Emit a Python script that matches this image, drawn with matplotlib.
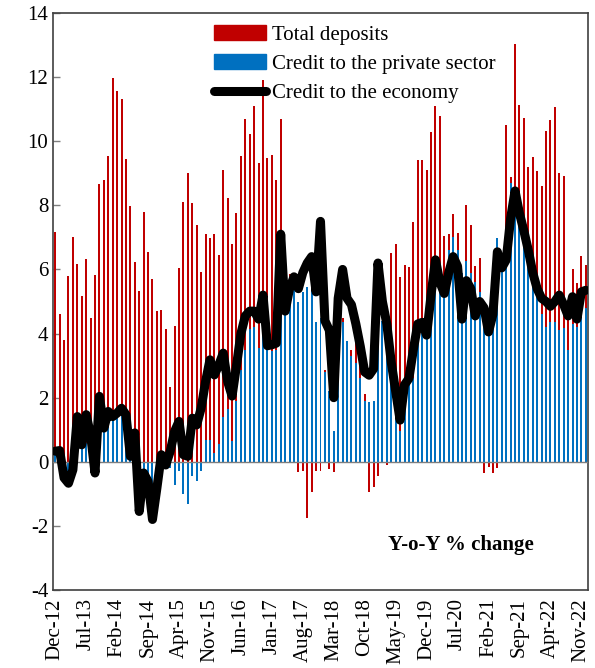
import numpy as np
import matplotlib
matplotlib.use("Agg")
import matplotlib.pyplot as plt
from matplotlib.patches import Patch
from matplotlib.lines import Line2D

plt.rcParams['font.family'] = ['Liberation Serif', 'DejaVu Serif']
plt.rcParams['axes.unicode_minus'] = False

# === Data (monthly, Dec-12 .. Dec-22) ===
total_deposits = [
    7.17, 4.62, 3.79, 5.79, 7.01, 6.18, 5.16, 6.32, 4.49, 5.83,
    8.68, 8.79, 9.54, 11.96, 11.57, 11.32, 9.43, 7.97, 6.22, 5.33,
    7.80, 6.53, 5.69, 4.71, 4.73, 4.15, 2.33, 4.24, 6.05, 8.11,
    9.01, 8.07, 7.40, 5.93, 7.11, 6.98, 7.12, 6.44, 9.11, 8.23,
    6.80, 7.77, 9.54, 10.68, 10.23, 11.09, 9.33, 11.90, 9.49, 9.58,
    8.79, 10.68, 4.00, 5.85, 4.50, -0.33, -0.28, -1.74, -0.95, -0.28,
    -0.28, 2.85, -0.22, -0.33, 3.50, 4.50, -0.05, 3.50, 4.00, 3.07,
    2.10, -0.95, -0.78, -0.45, 3.00, -0.10, 6.50, 6.80, 5.77, 6.14,
    6.08, 7.47, 9.41, 9.41, 9.10, 10.30, 11.10, 10.80, 7.05, 7.12,
    7.72, 7.14, 5.50, 8.00, 7.40, 6.10, 6.35, -0.35, -0.15, -0.35,
    -0.20, 4.00, 10.51, 8.87, 13.04, 11.13, 10.71, 9.20, 9.51, 9.08,
    8.59, 10.33, 10.66, 11.08, 9.02, 8.90, 4.70, 6.00, 5.58, 6.42,
    6.14,
]

credit_private = [
    0.30, 0.20, -0.20, -0.30, 0.10, 0.60, 0.40, 0.60, 0.50, 0.30,
    1.00, 1.10, 1.40, 1.50, 1.60, 1.60, 1.30, 0.60, 0.40, -0.20,
    -0.50, -0.60, -0.80, -0.30, -0.10, 0.10, -0.20, -0.73, -0.30, -1.00,
    -1.31, -0.45, -0.61, -0.28, 0.67, 0.67, 0.27, 0.57, 1.40, 1.65,
    0.65, 1.89, 2.86, 3.50, 4.15, 4.19, 3.56, 4.50, 3.50, 3.45,
    3.50, 4.55, 4.60, 5.40, 5.40, 5.00, 5.30, 5.45, 5.80, 4.35,
    4.50, 2.80, 2.20, 0.95, 4.30, 4.35, 3.78, 3.30, 3.08, 2.62,
    1.90, 1.85, 1.90, 4.70, 4.38, 3.39, 2.82, 2.20, 0.95, 2.40,
    2.50, 2.60, 4.06, 4.27, 4.58, 5.10, 5.60, 5.80, 5.80, 6.60,
    7.00, 6.60, 5.90, 6.25, 5.90, 5.60, 5.30, 4.80, 4.24, 4.35,
    6.98, 5.97, 6.36, 8.70, 8.40, 7.81, 7.48, 6.80, 6.00, 5.36,
    4.62, 4.20, 4.35, 4.36, 4.12, 4.17, 3.48, 4.30, 4.20, 4.55,
    4.80,
]

credit_economy = [
    0.33, 0.35, -0.50, -0.67, -0.25, 1.41, 0.53, 1.47, 0.84, -0.35,
    2.04, 1.05, 1.57, 1.41, 1.52, 1.67, 1.47, 0.17, 0.90, -1.55,
    -0.35, -0.61, -1.80, -0.82, 0.22, -0.10, 0.32, 0.95, 1.26, 0.22,
    0.17, 1.36, 1.15, 1.67, 2.50, 3.18, 2.71, 3.02, 3.39, 2.50,
    2.05, 3.00, 4.00, 4.55, 4.70, 4.70, 4.45, 5.20, 3.62, 3.65,
    3.70, 7.10, 4.70, 5.40, 5.77, 5.40, 5.90, 6.20, 6.40, 5.30,
    7.50, 4.40, 4.10, 2.00, 5.10, 6.00, 5.10, 4.90, 4.30, 3.60,
    2.80, 2.70, 2.90, 6.20, 5.00, 4.30, 3.10, 2.20, 1.30, 2.40,
    2.60, 3.50, 4.30, 4.35, 3.95, 5.20, 6.30, 5.60, 5.25, 5.90,
    6.40, 6.10, 4.45, 5.65, 5.40, 4.55, 5.00, 4.80, 4.05, 4.60,
    6.55, 6.05, 6.30, 7.60, 8.45, 7.75, 7.20, 6.60, 5.90, 5.40,
    5.10, 5.00, 4.85, 5.00, 5.20, 4.90, 4.55, 5.15, 4.45, 5.30,
    5.35,
]

tick_labels = ["Dec-12", "Jul-13", "Feb-14", "Sep-14", "Apr-15", "Nov-15",
               "Jun-16", "Jan-17", "Aug-17", "Mar-18", "Oct-18", "May-19",
               "Dec-19", "Jul-20", "Feb-21", "Sep-21", "Apr-22", "Nov-22"]

RED = "#C00000"
BLUE = "#0070C0"

x = np.arange(len(total_deposits))

fig = plt.figure(figsize=(5.95, 6.68), dpi=100)
ax = fig.add_axes([53 / 595, 1 - 590 / 668, 535 / 595, 577 / 668])

ax.bar(x, total_deposits, width=0.45, color=RED, zorder=2)
ax.bar(x, credit_private, width=0.45, color=BLUE, zorder=3)
ax.axhline(0, color="#7f7f7f", lw=1.0, zorder=4)
ax.plot(x, credit_economy, color="black", lw=6.5, solid_joinstyle="round",
        solid_capstyle="round", zorder=5)

ax.set_xlim(-0.5, len(x) - 0.5)
ax.set_ylim(-4, 14)
ax.set_yticks(range(-4, 15, 2))
ax.set_xticks(x[::7][:len(tick_labels)])
ax.set_xticklabels(tick_labels, rotation=90)
ax.tick_params(axis="x", length=0, labelsize=15, pad=6)
ax.tick_params(axis="y", direction="in", length=5, labelsize=15, width=1,
               color="#7f7f7f")
for s in ax.spines.values():
    s.set_linewidth(1.2)
    s.set_color("#404040")

handles = [Patch(color=RED), Patch(color=BLUE),
           Line2D([0], [0], color="black", lw=6.5, solid_capstyle="round")]
ax.legend(handles, ["Total deposits", "Credit to the private sector",
                    "Credit to the economy"],
          loc="upper left", bbox_to_anchor=(0.278, 1.0), frameon=False,
          fontsize=15, handlelength=2.5, handletextpad=0.25,
          labelspacing=0.45, borderaxespad=0.2)

ax.text(0.763, 0.078, "Y-o-Y % change", transform=ax.transAxes,
        ha="center", va="center", fontsize=15, fontweight="bold")

fig.savefig("out.png", dpi=100)
